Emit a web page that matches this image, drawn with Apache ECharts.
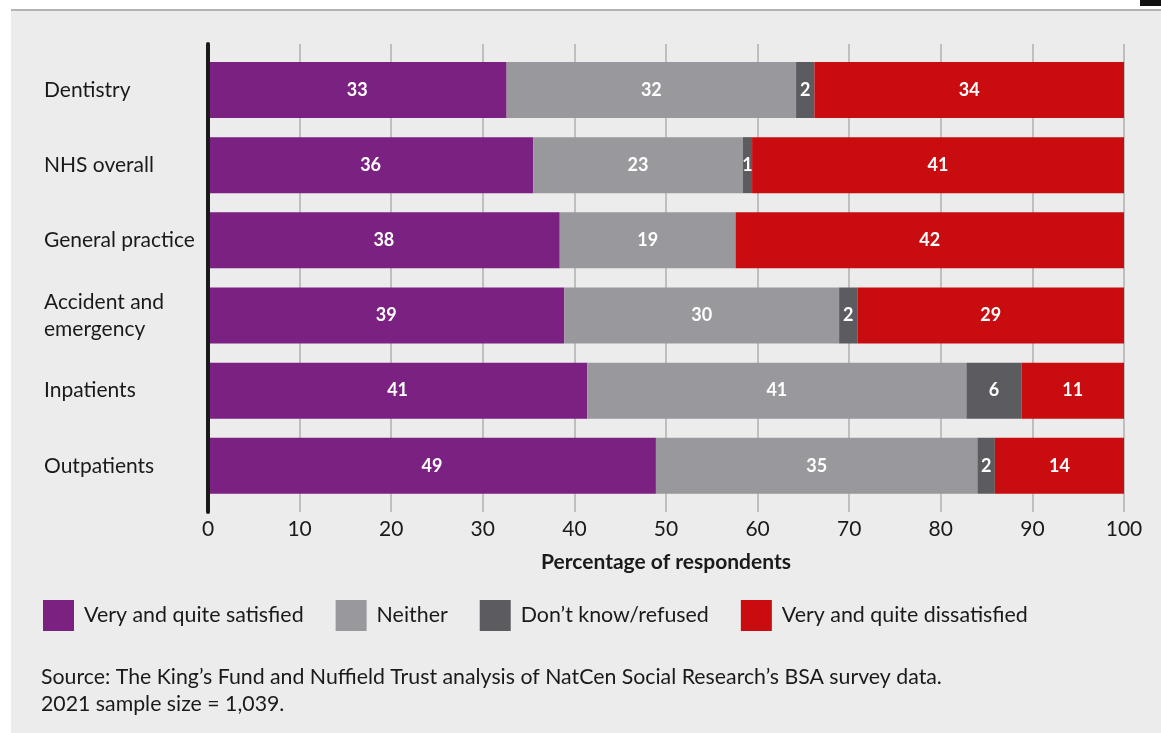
<!DOCTYPE html>
<html><head><meta charset="utf-8">
<script src="https://cdn.jsdelivr.net/npm/echarts@6/dist/echarts.min.js"></script>
<style>html,body{margin:0;padding:0;background:#fff;}#c{width:1161px;height:733px;}</style>
</head><body><div id="c"></div>
<script>
const categories = ['Dentistry', 'NHS overall', 'General practice', 'Accident and\nemergency', 'Inpatients', 'Outpatients'];
const satisfied = [32.6, 35.5, 38.4, 38.9, 41.4, 48.9];
const neither = [31.6, 22.9, 19.2, 30.0, 41.4, 35.1];
const dontKnow = [2.0, 1.0, 0, 2.0, 6.0, 1.9];
const dissatisfied = [33.8, 40.6, 42.4, 29.1, 11.2, 14.1];
const seriesNames = ['Very and quite satisfied', 'Neither', 'Don\u2019t know/refused', 'Very and quite dissatisfied'];
const colors = ['#7a2182', '#99989c', '#5c5b60', '#c90c0f'];
const xTicks = [0, 10, 20, 30, 40, 50, 60, 70, 80, 90, 100];

const FONT = 'Lato, "Noto Sans", sans-serif';
const chart = echarts.init(document.getElementById('c'), null, {renderer: 'canvas'});
const data = [satisfied, neither, dontKnow, dissatisfied];
const series = data.map((d, i) => ({
  name: seriesNames[i], type: 'bar', stack: 'all', xAxisIndex: 1, yAxisIndex: 1,
  barWidth: 56, data: d, itemStyle: {color: colors[i]},
  label: {show: true, position: 'inside', color: '#fff', fontFamily: FONT, fontSize: 18, fontWeight: 'bold',
    formatter: p => p.value > 0.5 ? String(Math.round(p.value)) : ''}
}));
chart.setOption({
  backgroundColor: '#fff',
  animation: false,
  graphic: [
    {type: 'rect', shape: {x: 11, y: 11, width: 1150, height: 722}, style: {fill: '#ececec'}, z: -10},
    {type: 'line', shape: {x1: 11, y1: 10, x2: 1161, y2: 10}, style: {stroke: '#9a9a9a', lineWidth: 1.5}, z: -9},
    {type: 'rect', shape: {x: 1140, y: 0, width: 21, height: 6}, style: {fill: '#111'}, z: -9},
    {type: 'text', left: 41, top: 664, style: {text: 'Source: The King\u2019s Fund and Nuffield Trust analysis of NatCen Social Research\u2019s BSA survey data.\n2021 sample size = 1,039.', font: '21.3px ' + FONT, fill: '#1a1a1a', lineHeight: 27}}
  ],
  legend: {
    left: 43, top: 600, padding: 0, itemWidth: 31, itemHeight: 31, itemGap: 32, icon: 'rect',
    textStyle: {fontFamily: FONT, fontSize: 21.4, color: '#1a1a1a', padding: [0, 0, 0, 5]},
    data: seriesNames
  },
  grid: [
    {left: 208, right: 37, top: 44, bottom: 221},
    {left: 208, right: 37, top: 52.4, bottom: 229.6}
  ],
  xAxis: [
    {type: 'value', gridIndex: 0, min: xTicks[0], max: xTicks[xTicks.length - 1], interval: 10,
      axisLine: {show: false}, axisTick: {show: false},
      splitLine: {show: true, lineStyle: {color: '#b0b0b0', width: 1.5}},
      axisLabel: {fontFamily: FONT, fontSize: 21, color: '#1a1a1a', margin: 7},
      name: 'Percentage of respondents', nameLocation: 'middle', nameGap: 40,
      nameTextStyle: {fontFamily: FONT, fontSize: 21, fontWeight: 'bold', color: '#1a1a1a'}},
    {type: 'value', gridIndex: 1, min: 0, max: 100, show: false}
  ],
  yAxis: [
    {type: 'value', gridIndex: 0, z: 5, axisLine: {show: true, lineStyle: {color: '#1a1a1a', width: 4}},
      axisLabel: {show: false}, axisTick: {show: false}, splitLine: {show: false}},
    {type: 'category', gridIndex: 1, inverse: true, data: categories,
      axisLine: {show: false}, axisTick: {show: false},
      axisLabel: {align: 'left', margin: 164, fontFamily: FONT, fontSize: 21, color: '#1a1a1a', lineHeight: 27}}
  ],
  series: series
});
</script></body></html>
